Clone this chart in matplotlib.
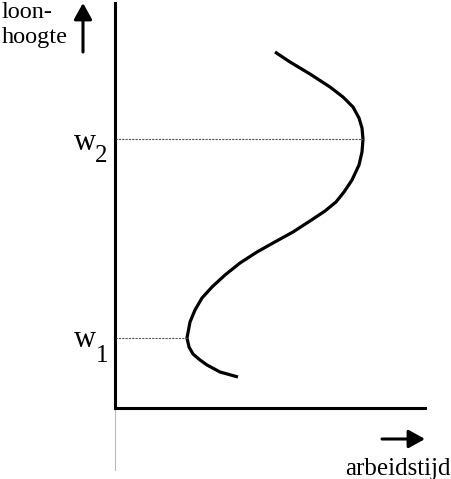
import matplotlib
matplotlib.use("Agg")
import matplotlib.pyplot as plt

W, H = 452, 479

# supply-of-labour curve (x: arbeidstijd, y: loonhoogte), arbitrary units
curve_x = [160, 175, 195, 215, 228, 238, 244, 247, 248, 247, 244, 237, 229, 221, 210, 198, 178, 158,
           142, 125, 110, 97, 87, 80, 75, 72, 74, 78, 85, 92, 105, 123]
curve_y = [356, 346, 334, 321, 311, 301, 290, 280, 269, 256, 243, 228, 216, 206, 197, 189, 176, 165,
           156, 145, 133, 121, 110, 98, 86, 70, 61, 54, 48, 43, 36, 31]

w_levels = [269, 70]           # w2, w1
w_reach = [248, 72]            # x where the dashed lines end
w_labels = ["2", "1"]

plt.rcParams['font.family'] = ['Liberation Serif', 'DejaVu Serif']

fig = plt.figure(figsize=(W / 100, H / 100), dpi=100)
ax = fig.add_axes([115 / W, 71 / H, 310 / W, 405 / H])
ax.set_xlim(0, 310)
ax.set_ylim(0, 405)
for s in ['top', 'right']:
    ax.spines[s].set_visible(False)
for s in ['left', 'bottom']:
    ax.spines[s].set_linewidth(2.2)
ax.set_xticks([])
ax.set_yticks([])
ax.patch.set_alpha(0)

ax.plot(curve_x, curve_y, color='black', lw=2.3, solid_capstyle='butt', solid_joinstyle='round')
for yv, xr in zip(w_levels, w_reach):
    ax.plot([0, xr], [yv, yv], color='#555555', lw=0.8, ls=(0, (2, 1)))

# thin grey line below the origin
ax.plot([0, 0], [0, -62], color='#bbbbbb', lw=0.8, clip_on=False)


def fx(px):
    return px / W


def fy(py):
    return 1 - py / H


# w labels: (baseline of w, baseline of subscript, left of subscript)
pos = {"2": (150, 162, 95), "1": (347, 362, 96)}
for lab in w_labels:
    bw, bs, xs = pos[lab]
    fig.text(fx(74), fy(bw), "w", fontsize=22, ha='left', va='baseline')
    fig.text(fx(xs), fy(bs), lab, fontsize=18, ha='left', va='baseline')

fig.text(fx(2), fy(18), "loon-", fontsize=17.5, ha='left', va='baseline')
fig.text(fx(2), fy(43), "hoogte", fontsize=17.5, ha='left', va='baseline')
fig.text(fx(451), fy(475), "arbeidstijd", fontsize=18, ha='right', va='baseline')

arrow = dict(arrowstyle='-|>,head_length=0.45,head_width=0.25', lw=2.2, color='black',
             mutation_scale=22, shrinkA=0, shrinkB=0)
ax.annotate("", xy=(83, H - 3), xytext=(83, H - 52), xycoords='figure pixels',
            textcoords='figure pixels', arrowprops=arrow)
ax.annotate("", xy=(425, H - 439), xytext=(382, H - 439), xycoords='figure pixels',
            textcoords='figure pixels', arrowprops=arrow)

fig.savefig("out.png", dpi=100)
